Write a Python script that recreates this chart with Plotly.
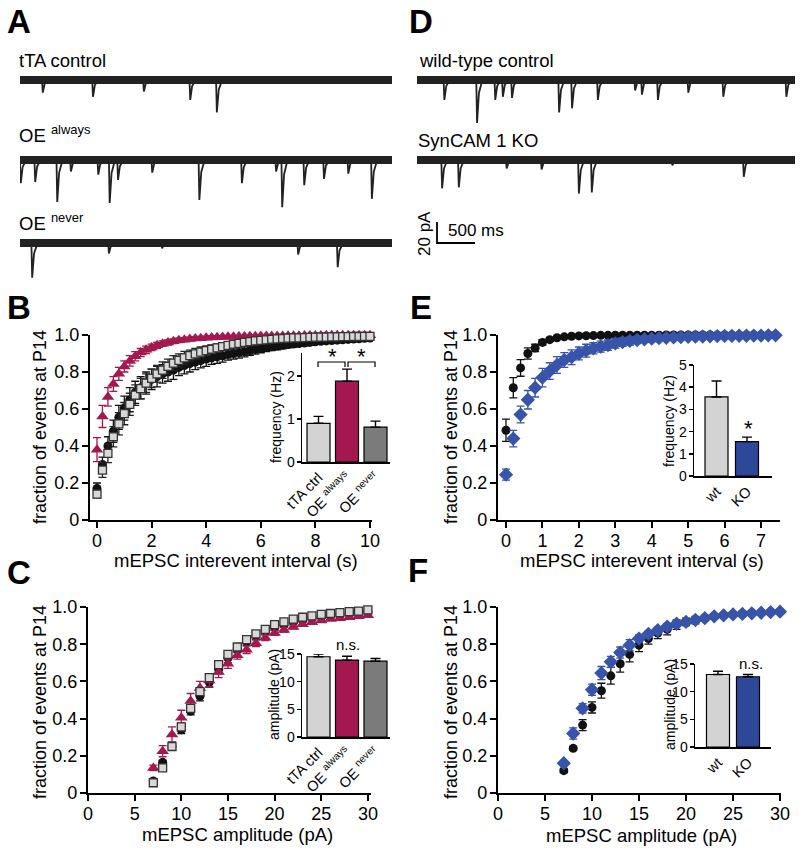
import plotly.graph_objects as go

W, H = 800, 851
FONT = "Liberation Sans, Arial, Helvetica, sans-serif"

def fx(px): return px / W
def fy(py): return 1 - py / H

# ------------------------------------------------------------------ data
# Example traces: event times (s) and amplitudes (pA)
TTA_T = [0.30, 0.96, 1.63, 2.24, 2.59]
TTA_A = [12, 16, 11, 19, 31]
OEA_T = [0.01, 0.20, 0.49, 0.67, 1.03, 1.18, 1.29, 1.74, 2.36, 2.92, 3.37, 3.45, 3.74, 4.00, 4.32, 4.63]
OEA_A = [22, 21, 40, 11, 14, 41, 19, 12, 38, 22, 11, 45, 24, 18, 13, 37]
OEN_T = [0.16, 1.17, 1.87, 3.66, 4.18]
OEN_A = [33, 10, 5, 11, 23]
WT_T = [0.36, 0.79, 1.03, 1.13, 1.25, 1.87, 2.04, 2.38, 2.87, 2.96, 3.17, 3.57, 4.03, 4.86]
WT_A = [19, 41, 19, 16, 17, 31, 27, 19, 10, 14, 19, 12, 16, 16]
KO_T = [0.33, 0.55, 1.18, 1.64, 2.13, 2.30, 3.36, 4.30]
KO_A = [27, 26, 8, 9, 32, 31, 5, 16]
SCALE_MS = 500
SCALE_PA = 20

# Panel B: cumulative interevent interval (s)
B_X = [round(0.2 * i, 1) for i in range(51)]
B_TTA = [0.17, 0.30, 0.40, 0.48, 0.555, 0.605, 0.65, 0.69, 0.715, 0.74,
         0.76, 0.775, 0.79, 0.80, 0.81, 0.825, 0.835, 0.845, 0.853, 0.862,
         0.87, 0.876, 0.882, 0.888, 0.894, 0.90, 0.905, 0.91, 0.916, 0.922,
         0.928, 0.932, 0.936, 0.94, 0.944, 0.948, 0.951, 0.954, 0.957, 0.96,
         0.963, 0.966, 0.968, 0.97, 0.972, 0.974, 0.976, 0.978, 0.98, 0.982, 0.984]
B_TTA_ERR = [0.03, 0.04, 0.05, 0.06, 0.065, 0.065, 0.065, 0.06, 0.06, 0.06,
             0.055, 0.055, 0.05, 0.05, 0.05, 0.045, 0.045, 0.045, 0.04, 0.04,
             0.04, 0.035, 0.035, 0.035, 0.03, 0.03, 0.03, 0.028, 0.026, 0.025,
             0.024, 0.022, 0.02, 0.02, 0.019, 0.018, 0.017, 0.016, 0.015, 0.014,
             0.013, 0.012, 0.012, 0.011, 0.01, 0.01, 0.01, 0.009, 0.009, 0.008, 0.008]
B_OEA = [0.38, 0.56, 0.665, 0.735, 0.79, 0.83, 0.86, 0.885, 0.905, 0.92,
         0.933, 0.944, 0.953, 0.96, 0.966, 0.971, 0.975, 0.978, 0.981, 0.983,
         0.985, 0.987, 0.988, 0.989, 0.99, 0.991, 0.992, 0.992, 0.993, 0.993,
         0.994, 0.994, 0.995, 0.995, 0.995, 0.996, 0.996, 0.996, 0.997, 0.997,
         0.997, 0.997, 0.998, 0.998, 0.998, 0.998, 0.998, 0.999, 0.999, 0.999, 0.999]
B_OEA_ERR = [0.065, 0.06, 0.05, 0.04, 0.035, 0.03, 0.028, 0.025, 0.022, 0.02,
             0.018, 0.016, 0.015, 0.014, 0.013, 0.012, 0.011, 0.01, 0.01, 0.009,
             0.008, 0.008, 0.008, 0.007, 0.007, 0.007, 0.006, 0.006, 0.006, 0.006,
             0.005, 0.005, 0.005, 0.005, 0.005, 0.005, 0.004, 0.004, 0.004, 0.004,
             0.004, 0.004, 0.004, 0.004, 0.004, 0.004, 0.004, 0.004, 0.004, 0.004, 0.004]
B_OEN = [0.14, 0.27, 0.36, 0.45, 0.52, 0.575, 0.625, 0.675, 0.71, 0.74,
         0.765, 0.79, 0.81, 0.83, 0.848, 0.863, 0.876, 0.888, 0.898, 0.907,
         0.915, 0.923, 0.93, 0.937, 0.944, 0.95, 0.955, 0.96, 0.964, 0.968,
         0.971, 0.974, 0.977, 0.979, 0.981, 0.983, 0.984, 0.985, 0.986, 0.987,
         0.988, 0.989, 0.989, 0.99, 0.99, 0.991, 0.991, 0.992, 0.992, 0.993, 0.993]
B_OEN_ERR = [0.02, 0.04, 0.05, 0.055, 0.06, 0.06, 0.06, 0.055, 0.055, 0.05,
             0.05, 0.045, 0.045, 0.04, 0.04, 0.035, 0.035, 0.03, 0.03, 0.028,
             0.026, 0.024, 0.022, 0.02, 0.018, 0.016, 0.015, 0.014, 0.013, 0.012,
             0.011, 0.01, 0.01, 0.009, 0.009, 0.008, 0.008, 0.007, 0.007, 0.007,
             0.006, 0.006, 0.006, 0.006, 0.005, 0.005, 0.005, 0.005, 0.005, 0.005, 0.005]

# Panel B inset: frequency (Hz)
B_BAR_LABELS = ["tTA ctrl", "OE <sup>always</sup>", "OE <sup>never</sup>"]
B_BAR_VALS = [0.90, 1.88, 0.81]
B_BAR_ERR = [0.16, 0.28, 0.14]

# Panel C: cumulative amplitude (pA)
C_X = list(range(7, 31))
C_TTA = [0.065, 0.165, 0.25, 0.34, 0.44, 0.52, 0.595, 0.665, 0.725, 0.775, 0.815, 0.845,
         0.87, 0.89, 0.905, 0.92, 0.93, 0.94, 0.948, 0.955, 0.96, 0.965, 0.97, 0.975]
C_TTA_ERR = [0.01, 0.01, 0.02, 0.02, 0.02, 0.025, 0.025, 0.025, 0.025, 0.02, 0.02, 0.02,
             0.018, 0.016, 0.014, 0.012, 0.011, 0.01, 0.009, 0.008, 0.007, 0.006, 0.006, 0.005]
C_OEA = [0.135, 0.225, 0.315, 0.405, 0.495, 0.565, 0.605, 0.65, 0.695, 0.74, 0.77, 0.805,
         0.835, 0.86, 0.877, 0.893, 0.907, 0.918, 0.927, 0.935, 0.94, 0.945, 0.95, 0.955]
C_OEA_ERR = [0.015, 0.03, 0.04, 0.04, 0.04, 0.035, 0.035, 0.03, 0.025, 0.02, 0.02, 0.018,
             0.015, 0.013, 0.012, 0.01, 0.01, 0.009, 0.008, 0.007, 0.006, 0.006, 0.005, 0.005]
C_OEN = [0.055, 0.135, 0.25, 0.355, 0.455, 0.545, 0.62, 0.69, 0.745, 0.785, 0.825, 0.855,
         0.88, 0.905, 0.92, 0.935, 0.945, 0.952, 0.96, 0.965, 0.97, 0.975, 0.978, 0.985]
C_OEN_ERR = [0.01, 0.01, 0.015, 0.02, 0.02, 0.02, 0.02, 0.02, 0.018, 0.015, 0.012, 0.01,
             0.01, 0.009, 0.008, 0.007, 0.006, 0.006, 0.005, 0.005, 0.005, 0.004, 0.004, 0.004]

# Panel C inset: amplitude (pA)
C_BAR_VALS = [14.5, 13.9, 13.7]
C_BAR_ERR = [0.5, 0.7, 0.5]

# Panel E: cumulative interevent interval (s)
E_X = [round(0.2 * i, 1) for i in range(38)]
E_WT = [0.485, 0.715, 0.822, 0.90, 0.93, 0.96, 0.975, 0.985, 0.99, 0.993,
        0.995, 0.996, 0.997, 0.998, 0.998, 0.999, 0.999, 0.999, 0.999, 0.999,
        0.999, 0.999, 1.0, 1.0, 1.0, 1.0, 1.0, 1.0, 1.0, 1.0,
        1.0, 1.0, 1.0, 1.0, 1.0, 1.0, 1.0, 1.0]
E_WT_ERR = [0.06, 0.055, 0.045, 0.03, 0.02, 0.015, 0.01, 0.008, 0.006, 0.005,
            0.004, 0.004, 0.003, 0.003, 0.003, 0.002, 0.002, 0.002, 0.002, 0.002,
            0.002, 0.002, 0.001, 0.001, 0.001, 0.001, 0.001, 0.001, 0.001, 0.001,
            0.001, 0.001, 0.001, 0.001, 0.001, 0.001, 0.001, 0.001]
E_KO = [0.245, 0.44, 0.57, 0.65, 0.715, 0.77, 0.805, 0.838, 0.865, 0.88,
        0.90, 0.915, 0.928, 0.937, 0.945, 0.955, 0.962, 0.968, 0.973, 0.977,
        0.98, 0.983, 0.985, 0.987, 0.989, 0.99, 0.991, 0.992, 0.993, 0.994,
        0.995, 0.995, 0.996, 0.996, 0.997, 0.997, 0.998, 0.998]
E_KO_ERR = [0.03, 0.045, 0.045, 0.05, 0.05, 0.05, 0.045, 0.045, 0.04, 0.04,
            0.035, 0.035, 0.03, 0.03, 0.028, 0.026, 0.024, 0.022, 0.02, 0.018,
            0.016, 0.014, 0.012, 0.011, 0.01, 0.009, 0.008, 0.008, 0.007, 0.006,
            0.006, 0.005, 0.005, 0.004, 0.004, 0.004, 0.003, 0.003]

# Panel E inset: frequency (Hz)
E_BAR_LABELS = ["wt", "KO"]
E_BAR_VALS = [3.56, 1.55]
E_BAR_ERR = [0.72, 0.2]

# Panel F: cumulative amplitude (pA)
F_X = list(range(7, 31))
F_WT = [0.12, 0.24, 0.365, 0.46, 0.55, 0.63, 0.695, 0.745, 0.795, 0.83, 0.86, 0.88,
        0.905, 0.92, 0.93, 0.94, 0.95, 0.955, 0.96, 0.965, 0.968, 0.97, 0.973, 0.975]
F_WT_ERR = [0.01, 0.01, 0.03, 0.03, 0.04, 0.045, 0.045, 0.04, 0.035, 0.03, 0.03, 0.03,
            0.025, 0.02, 0.02, 0.015, 0.012, 0.01, 0.009, 0.008, 0.007, 0.006, 0.005, 0.005]
F_KO = [0.16, 0.32, 0.455, 0.555, 0.645, 0.705, 0.755, 0.795, 0.83, 0.855, 0.875, 0.895,
        0.91, 0.92, 0.93, 0.94, 0.95, 0.955, 0.96, 0.963, 0.966, 0.969, 0.972, 0.975]
F_KO_ERR = [0.01, 0.03, 0.025, 0.03, 0.035, 0.03, 0.03, 0.03, 0.02, 0.015, 0.015, 0.012,
            0.012, 0.01, 0.01, 0.008, 0.007, 0.006, 0.005, 0.005, 0.004, 0.004, 0.004, 0.003]

# Panel F inset: amplitude (pA)
F_BAR_VALS = [13.1, 12.7]
F_BAR_ERR = [0.6, 0.4]

# ------------------------------------------------------------------ style
BLACK = "#111111"
CRIMSON = "#A3184F"
BLUE_MK = "#3753AA"
BLUE_BAR = "#2D4799"
LIGHT = "#D3D3D3"
DARK = "#7B7B7B"
SQ_FILL = "#D8D8D8"

PX_PER_PA = 1.05
PX_PER_S = 76.0

fig = go.Figure()
layout = dict(template="none", width=W, height=H,
              margin=dict(l=0, r=0, t=0, b=0, pad=0, autoexpand=False),
              paper_bgcolor="white", plot_bgcolor="rgba(0,0,0,0)",
              showlegend=False, font=dict(family=FONT, color="black"))
annotations = []
shapes = []

def ids(n):
    s = "" if n == 1 else str(n)
    return "x" + s, "y" + s

def add_axes(n, xpx, ypx, xopts, yopts):
    xid, yid = ids(n)
    layout["xaxis" + xid[1:]] = dict(domain=[fx(xpx[0]), fx(xpx[1])], anchor=yid,
                                     automargin=False, **xopts)
    layout["yaxis" + yid[1:]] = dict(domain=[fy(ypx[1]), fy(ypx[0])], anchor=xid,
                                     automargin=False, **yopts)

def lin(px, p0, p1, r0, r1):
    return r0 + (px - p0) / (p1 - p0) * (r1 - r0)

# ------------------------------------------------------------------ traces (A, D)
def ephys(n, x0, x1, base, top, bot, times, amps):
    dur = (x1 - x0) / PX_PER_S
    yr = [-(bot - base) / PX_PER_PA, (base - top) / PX_PER_PA]
    hid = dict(visible=False, fixedrange=True)
    add_axes(n, [x0, x1], [top, bot], dict(range=[0, dur], **hid), dict(range=yr, **hid))
    xid, yid = ids(n)
    fig.add_trace(go.Scatter(x=[0, dur], y=[0, 0], mode="lines",
                             line=dict(color="#222222", width=8), xaxis=xid, yaxis=yid,
                             hoverinfo="skip"))
    xs, ys = [], []
    for t, a in zip(times, amps):
        xs += [max(t - 0.01, 0), t, t + 0.025, t + 0.07, None]
        ys += [0, -a, -a * 0.3, 0, None]
    fig.add_trace(go.Scatter(x=xs, y=ys, mode="lines", line=dict(color="#222222", width=1.8),
                             xaxis=xid, yaxis=yid, hoverinfo="skip", cliponaxis=False))
    return dur, yr

ephys(1, 20, 392, 80, 65, 130, TTA_T, TTA_A)
ephys(2, 20, 392, 160, 145, 215, OEA_T, OEA_A)
ephys(3, 20, 392, 243, 228, 290, OEN_T, OEN_A)
ephys(4, 417, 795, 80, 65, 135, WT_T, WT_A)
dur5, yr5 = ephys(5, 417, 795, 160, 145, 255, KO_T, KO_A)

# scale bar on KO axis
sb_x0 = lin(437, 417, 795, 0, dur5)
sb_y0 = lin(243, 255, 145, yr5[0], yr5[1])
fig.add_trace(go.Scatter(x=[sb_x0, sb_x0, sb_x0 + SCALE_MS / 1000.0],
                         y=[sb_y0 + SCALE_PA, sb_y0, sb_y0], mode="lines",
                         line=dict(color="black", width=1.8), xaxis="x5", yaxis="y5",
                         cliponaxis=False, hoverinfo="skip"))
annotations.append(dict(text=f"{SCALE_MS} ms", x=fx(446), y=fy(231), xref="paper", yref="paper",
                        xanchor="left", yanchor="middle", showarrow=False, font=dict(size=17)))
annotations.append(dict(text=f"{SCALE_PA} pA", x=fx(425), y=fy(234), xref="paper", yref="paper",
                        xanchor="center", yanchor="middle", showarrow=False, textangle=-90,
                        font=dict(size=17)))

for txt, xp, yp in [("tTA control", 17, 60), ("OE <sup>always</sup>", 17, 134),
                    ("OE <sup>never</sup>", 17, 222), ("wild-type control", 417, 60),
                    ("SynCAM 1 KO", 416, 140)]:
    annotations.append(dict(text=txt, x=fx(xp), y=fy(yp), xref="paper", yref="paper",
                            xanchor="left", yanchor="middle", showarrow=False,
                            font=dict(size=18.5)))

# ------------------------------------------------------------------ main CDF axes
def main_axes(n, xpx, ypx, xr, xticks):
    common = dict(showline=True, linewidth=2.2, linecolor="black", ticks="outside",
                  ticklen=6, tickwidth=2, tickcolor="black", showgrid=False,
                  zeroline=False, fixedrange=True, tickfont=dict(size=18, color="black"))
    yt = [0, 0.2, 0.4, 0.6, 0.8, 1.0]
    add_axes(n, xpx, ypx,
             dict(range=xr, tickvals=xticks, ticktext=[str(v) for v in xticks],
                  ticklabelstandoff=-3, **common),
             dict(range=[0, 1], tickvals=yt, ticktext=["0", "0.2", "0.4", "0.6", "0.8", "1.0"],
                  ticklabelstandoff=-1, **common))

def cdf(n, x, y, err, symbol, size, color, ecolor, line=None):
    xid, yid = ids(n)
    fig.add_trace(go.Scatter(
        x=x, y=y, mode="markers", xaxis=xid, yaxis=yid, cliponaxis=False,
        marker=dict(symbol=symbol, size=size, color=color,
                    line=line or dict(width=0)),
        error_y=dict(type="data", array=err, color=ecolor, thickness=1.3, width=4)))

main_axes(6, [90, 372], [335, 520], [-7 / 27.3, 275 / 27.3], [0, 2, 4, 6, 8, 10])
cdf(6, B_X, B_TTA, B_TTA_ERR, "circle", 9, BLACK, BLACK)
cdf(6, B_X, B_OEA, B_OEA_ERR, "triangle-up", 11, CRIMSON, CRIMSON)
cdf(6, B_X, B_OEN, B_OEN_ERR, "square", 8, SQ_FILL, "#222222", dict(color="#333333", width=1.3))

main_axes(8, [88, 371], [607, 793], [0, 283 / 9.33], [0, 5, 10, 15, 20, 25, 30])
cdf(8, C_X, C_TTA, C_TTA_ERR, "circle", 9, BLACK, BLACK)
cdf(8, C_X, C_OEA, C_OEA_ERR, "triangle-up", 11, CRIMSON, CRIMSON)
cdf(8, C_X, C_OEN, C_OEN_ERR, "square", 8, SQ_FILL, "#222222", dict(color="#333333", width=1.3))

main_axes(10, [498, 780], [335, 520], [-8 / 36.43, 274 / 36.43], [0, 1, 2, 3, 4, 5, 6, 7])
cdf(10, E_X, E_WT, E_WT_ERR, "circle", 9, BLACK, BLACK)
cdf(10, E_X, E_KO, E_KO_ERR, "diamond", 11, BLUE_MK, BLUE_MK)

main_axes(12, [498, 781], [607, 793], [0, 283 / 9.4], [0, 5, 10, 15, 20, 25, 30])
cdf(12, F_X, F_WT, F_WT_ERR, "circle", 9, BLACK, BLACK)
cdf(12, F_X, F_KO, F_KO_ERR, "diamond", 11, BLUE_MK, BLUE_MK)

# ------------------------------------------------------------------ insets
def inset(n, xpx, ypx, centers_px, yr, yticks, labels, vals, errs, colors,
          keys, key_y):
    step = centers_px[1] - centers_px[0]
    xr = [(xpx[0] - centers_px[0]) / step, (xpx[1] - centers_px[0]) / step]
    idx = list(range(len(vals)))
    add_axes(n, xpx, ypx,
             dict(range=xr, tickvals=idx, ticktext=labels, showline=True, linewidth=1.5,
                  linecolor="black", ticks="", tickangle=-45, showgrid=False,
                  zeroline=False, fixedrange=True, tickfont=dict(size=14.5, color="black")),
             dict(range=yr, tickvals=yticks, ticktext=[str(v) for v in yticks],
                  showline=True, linewidth=1.5, linecolor="black", ticks="outside",
                  ticklen=4, tickwidth=1.5, tickcolor="black", showgrid=False,
                  ticklabelstandoff=-1,
                  zeroline=False, fixedrange=True, tickfont=dict(size=14, color="black")))
    xid, yid = ids(n)
    width_u = 23 / step
    fig.add_trace(go.Bar(x=idx, y=vals, width=width_u, xaxis=xid, yaxis=yid,
                         marker=dict(color=colors, line=dict(color="black", width=1.2)),
                         error_y=dict(type="data", array=errs, arrayminus=[0] * len(errs),
                                      symmetric=False, color="black", thickness=1.4, width=5)))
    # marker key under the category labels
    ky = lin(key_y, ypx[1], ypx[0], yr[0], yr[1])
    for kx, sym, size, col, ln in keys:
        fig.add_trace(go.Scatter(x=[(kx - centers_px[0]) / step], y=[ky], mode="markers",
                                 xaxis=xid, yaxis=yid, cliponaxis=False,
                                 marker=dict(symbol=sym, size=size, color=col, line=ln)))
    return step, xr

sq_line = dict(color="#333333", width=1.3)
nol = dict(width=0)

inset(7, [302, 390], [353, 462], [318.5, 347], [0, 109 / 43], [0, 1, 2],
      B_BAR_LABELS, B_BAR_VALS, B_BAR_ERR, [LIGHT, CRIMSON, DARK],
      [(289, "circle", 8, BLACK, nol), (317, "triangle-up", 11, CRIMSON, nol),
       (349, "square", 8, SQ_FILL, sq_line)], 512)
inset(9, [302, 390], [654, 737], [318.5, 347], [0, 15], [0, 5, 10, 15],
      B_BAR_LABELS, C_BAR_VALS, C_BAR_ERR, [LIGHT, CRIMSON, DARK],
      [(291, "circle", 8, BLACK, nol), (319, "triangle-up", 11, CRIMSON, nol),
       (352, "square", 8, SQ_FILL, sq_line)], 785)
inset(11, [694, 772], [365, 476], [716.5, 747], [0, 5], [0, 1, 2, 3, 4, 5],
      E_BAR_LABELS, E_BAR_VALS, E_BAR_ERR, [LIGHT, BLUE_BAR],
      [(713, "circle", 8, BLACK, nol), (748, "diamond", 11, BLUE_MK, nol)], 510)
inset(13, [695, 771], [664, 747], [718, 748], [0, 15], [0, 5, 10, 15],
      E_BAR_LABELS, F_BAR_VALS, F_BAR_ERR, [LIGHT, BLUE_BAR],
      [(714, "circle", 8, BLACK, nol), (748, "diamond", 11, BLUE_MK, nol)], 782)

# significance brackets (B inset), in pixel positions
for xa, xb in [(318, 345), (348, 375)]:
    shapes.append(dict(type="path", xref="paper", yref="paper",
                       path=f"M {fx(xa)},{fy(367)} L {fx(xa)},{fy(362)} L {fx(xb)},{fy(362)} L {fx(xb)},{fy(367)}",
                       line=dict(color="black", width=1.2)))
for sx, sy in [(332, 356), (361, 356), (748, 428)]:
    annotations.append(dict(text="*", x=fx(sx), y=fy(sy), xref="paper", yref="paper",
                            xanchor="center", yanchor="middle", showarrow=False,
                            font=dict(size=22)))
for sx, sy in [(348, 644), (751, 663)]:
    annotations.append(dict(text="n.s.", x=fx(sx), y=fy(sy), xref="paper", yref="paper",
                            xanchor="center", yanchor="middle", showarrow=False,
                            font=dict(size=15)))

# ------------------------------------------------------------------ titles / letters
for txt, xp, yp in [("A", 19, 22), ("B", 19, 307), ("C", 19, 572),
                    ("D", 421, 22), ("E", 421, 307), ("F", 418, 570)]:
    annotations.append(dict(text=f"<b>{txt}</b>", x=fx(xp), y=fy(yp), xref="paper",
                            yref="paper", xanchor="center", yanchor="middle",
                            showarrow=False, font=dict(size=33)))

for txt, xp, yp in [("mEPSC interevent interval (s)", 236, 560),
                    ("mEPSC amplitude (pA)", 237, 834),
                    ("mEPSC interevent interval (s)", 642, 560),
                    ("mEPSC amplitude (pA)", 641, 835)]:
    annotations.append(dict(text=txt, x=fx(xp), y=fy(yp), xref="paper", yref="paper",
                            xanchor="center", yanchor="middle", showarrow=False,
                            font=dict(size=18.5)))
for xp, yp in [(40, 427), (40, 702), (451, 427), (451, 702)]:
    annotations.append(dict(text="fraction of events at P14", x=fx(xp), y=fy(yp),
                            xref="paper", yref="paper", xanchor="center", yanchor="middle",
                            showarrow=False, textangle=-90, font=dict(size=18)))
for txt, xp, yp in [("frequency (Hz)", 276, 417), ("amplitude (pA)", 274, 695),
                    ("frequency (Hz)", 669, 421), ("amplitude (pA)", 670, 705)]:
    annotations.append(dict(text=txt, x=fx(xp), y=fy(yp), xref="paper", yref="paper",
                            xanchor="center", yanchor="middle", showarrow=False,
                            textangle=-90, font=dict(size=14)))

layout["annotations"] = annotations
layout["shapes"] = shapes
fig.update_layout(**layout)
fig.write_html("out.html",
               config={"displayModeBar": False, "staticPlot": True},
               post_script="document.body.style.margin='0';document.body.style.padding='0';"
                           "document.body.style.overflow='hidden';")
